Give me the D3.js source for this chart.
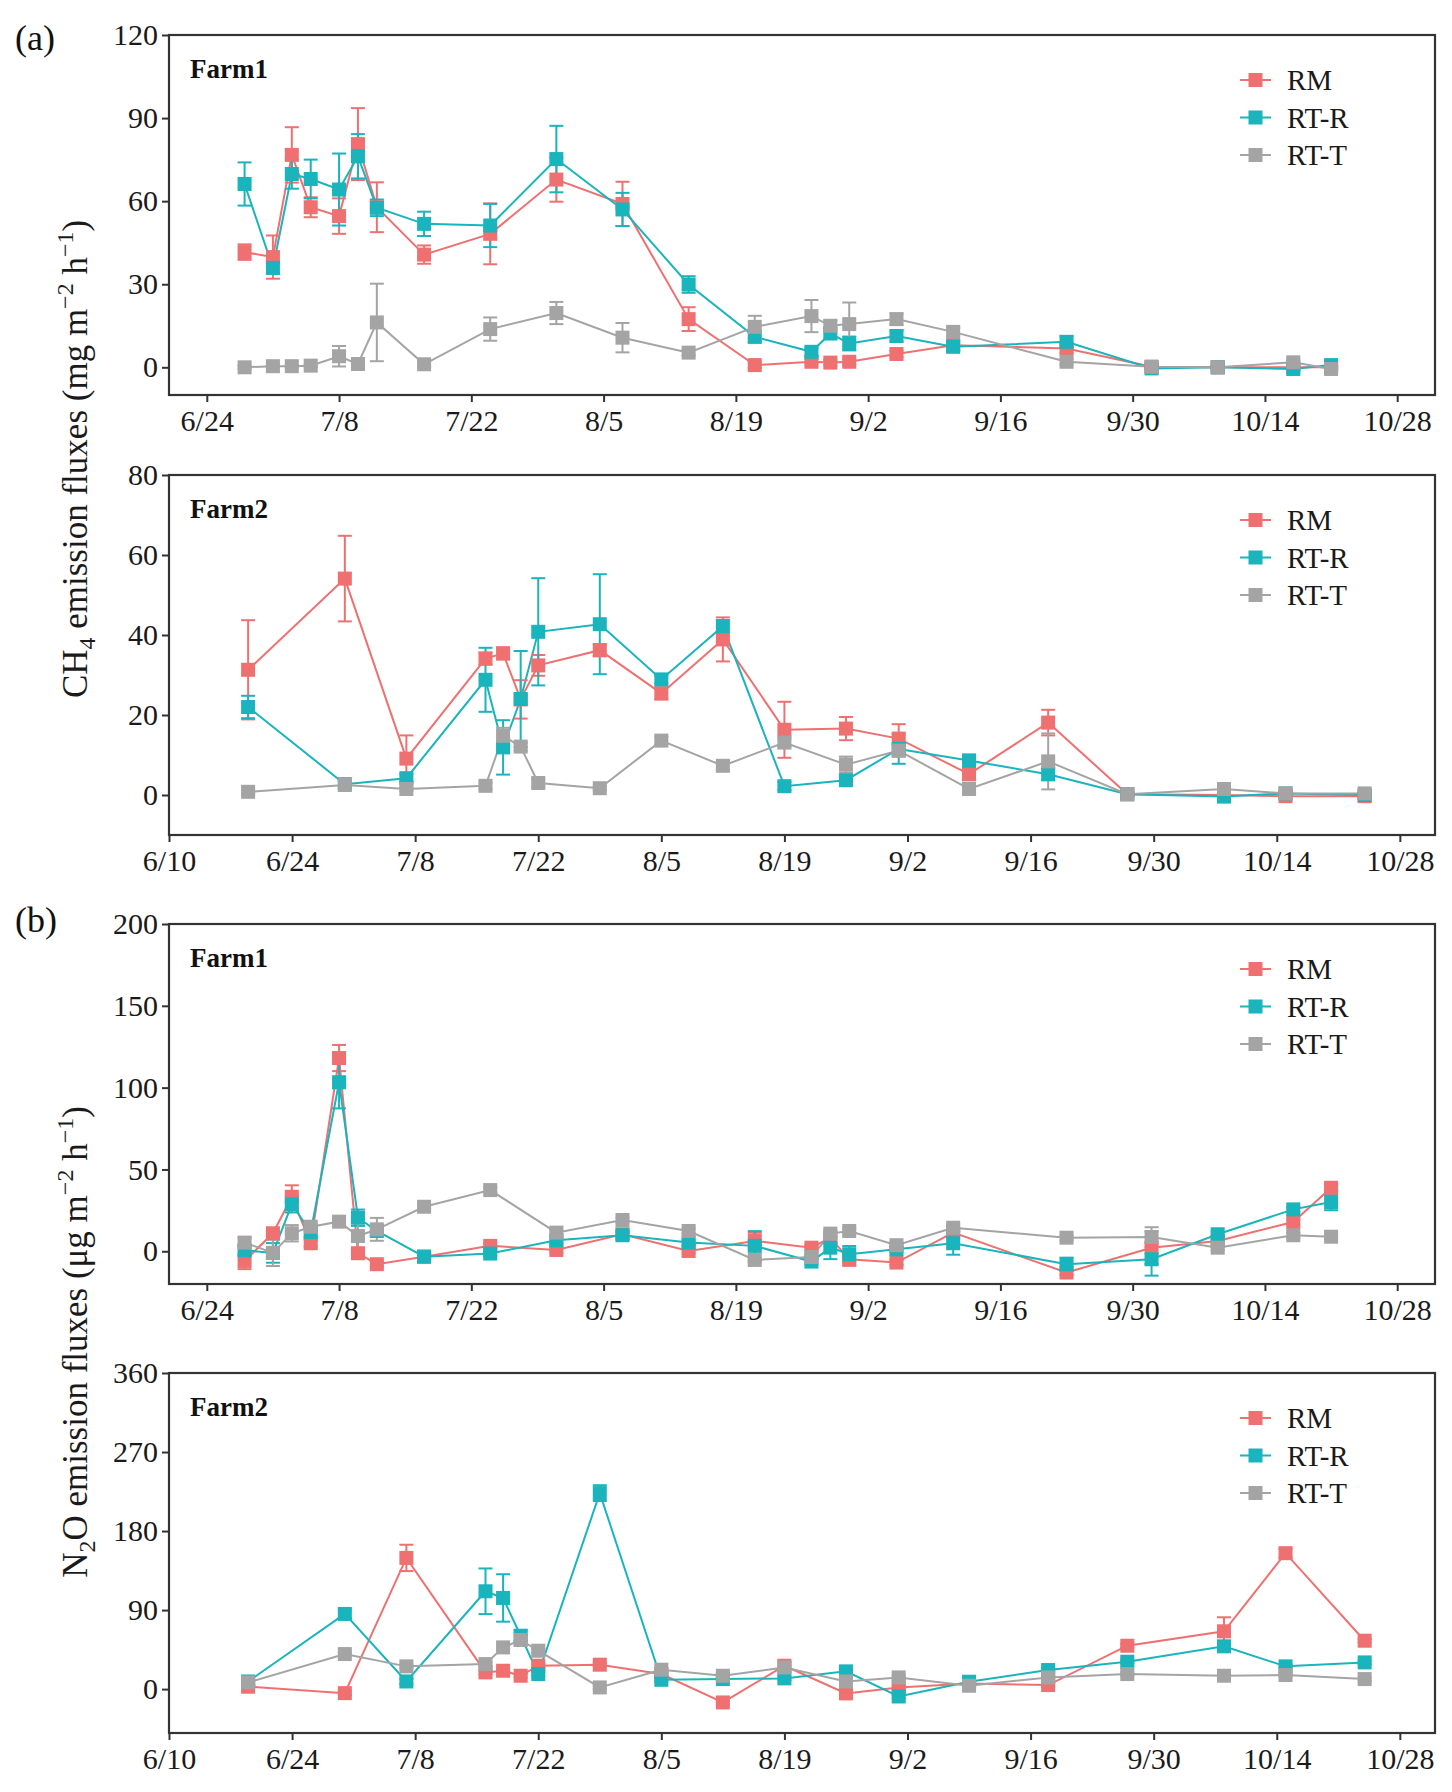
<!DOCTYPE html>
<html>
<head>
<meta charset="utf-8">
<script src="https://cdn.jsdelivr.net/npm/d3@7"></script>
<style>
    body { margin: 0; background: #fff; }
    text { font-family: "Liberation Serif", "Times New Roman", serif; }
</style>
</head>
<body>
<div id="chart"></div>
<script>
// ---- data ----
const seriesNames = ["RM", "RT-R", "RT-T"];

// sampling dates
const farm1Dates = ["6/28","7/1","7/3","7/5","7/8","7/10","7/12","7/17","7/24","7/31","8/7","8/14",
    "8/21","8/27","8/29","8/31","9/5","9/11","9/23","10/2","10/9","10/17","10/21"];
const farm2Dates = ["6/19","6/30","7/7","7/16","7/18","7/20","7/22","7/29","8/5","8/12",
    "8/19","8/26","9/1","9/9","9/18","9/27","10/8","10/15","10/24"];

// tick labels
const farm1XTicks = ["6/24","7/8","7/22","8/5","8/19","9/2","9/16","9/30","10/14","10/28"];
const farm2XTicks = ["6/10","6/24","7/8","7/22","8/5","8/19","9/2","9/16","9/30","10/14","10/28"];
const ch4Farm1YTicks = [0, 30, 60, 90, 120];
const ch4Farm2YTicks = [0, 20, 40, 60, 80];
const n2oFarm1YTicks = [0, 50, 100, 150, 200];
const n2oFarm2YTicks = [0, 90, 180, 270, 360];

// CH4, Farm1 (mg m-2 h-1)
const ch4Farm1RM     = [41.6,39.8,76.7,57.8,54.6,80.6,57.8,40.7,48.2,67.8,59.0,17.4,0.8,2.0,1.7,2.0,4.8,8.0,6.8,0.2,0,0,0];
const ch4Farm1RMErr  = [2.8,7.8,10,3.6,6.4,13,9,3.3,11,8,8,4.3,1,1,1,1,1.2,1.5,1.5,0.5,0.5,0.5,0.5];
const ch4Farm1RTR    = [66.2,35.9,69.8,68.0,64.2,76.2,57.6,51.8,51.2,75.2,57.0,29.9,11.0,5.6,12.2,8.6,11.3,7.4,9.2,-0.4,0,-0.6,0.8];
const ch4Farm1RTRErr = [7.8,2,5.3,7,13,8,3,4.4,7.8,12,6,3,2,1.5,2,2.5,2,1.5,2,0.5,0.5,0.5,0.5];
const ch4Farm1RTT    = [0,0.4,0.4,0.6,4.0,1.2,16.2,1.1,13.8,19.6,10.7,5.3,14.6,18.5,15.0,15.6,17.4,12.8,2.0,0.2,0,1.8,-0.6];
const ch4Farm1RTTErr = [0.5,0.5,0.5,0.5,3.7,1,14,1,4.2,4,5.3,1,4,5.8,2,7.8,2,1.5,1,0.5,0.5,1,0.5];

// CH4, Farm2
const ch4Farm2RM     = [31.3,54.1,9.1,34.1,35.4,23.9,32.4,36.2,25.4,38.9,16.3,16.6,14.1,5.2,18.1,0.2,0,-0.3,-0.3];
const ch4Farm2RMErr  = [12.4,10.7,5.8,1.5,1.5,4.8,2.6,1.5,1.5,5.5,7,2.9,3.6,1.5,3.2,0.5,0.5,0.5,0.5];
const ch4Farm2RTR    = [22.0,2.7,4.2,28.8,11.9,24.0,40.8,42.7,28.9,42.2,2.2,3.7,11.5,8.6,5.2,0.2,-0.4,0.4,0];
const ch4Farm2RTRErr = [2.8,1,1,8,6.8,12,13.4,12.5,1,1.5,1,1,3.7,1.5,1.5,0.5,0.5,0.5,0.5];
const ch4Farm2RTT    = [0.8,2.5,1.5,2.3,14.8,12.1,3.0,1.7,13.6,7.3,13.1,7.6,11.1,1.5,8.4,0.2,1.5,0.4,0.4];
const ch4Farm2RTTErr = [0.5,0.8,0.5,0.8,2,1,1,0.5,1,1,1,2,1.5,1,7,0.5,0.5,0.5,0.5];

// N2O, Farm1 (ug m-2 h-1)
const n2oFarm1RM     = [-5.9,11.0,33.3,4.9,118.1,-1.2,-7.9,-3.3,3.3,0.8,10.4,0.2,6.3,2.2,8.3,-4.9,-6.9,11.4,-13.0,2.2,6.3,17.9,38.8];
const n2oFarm1RMErr  = [5,1.5,7,2,8,1.5,1.5,1.5,1.5,1.5,1.5,1.5,5,1.5,3,4,1.5,2,1.5,10,1.5,1.5,2];
const n2oFarm1RTR    = [0.6,-1.0,28.7,11.8,103.3,20.5,12.4,-3.3,-1.4,6.7,9.8,5.3,3.3,-6.3,2.2,-1.8,1.2,4.9,-7.9,-4.9,10.4,25.6,30.1];
const n2oFarm1RTRErr = [3,6,5,3,16,5,3,1.5,1.5,1.5,2,1.5,9,1.5,7,5,1.5,7,4,10,1.5,1.5,5];
const n2oFarm1RTT    = [5.3,-1.0,11.0,15.0,18.1,9.3,13.4,27.2,37.4,11.4,19.1,12.4,-5.3,-3.5,10.8,12.4,3.7,14.4,8.3,8.7,2.2,9.8,8.9];
const n2oFarm1RTTErr = [3,8,5,2,1.5,8,7,1.5,1.5,1.5,1.5,1.5,1.5,1.5,2,1.5,1.5,2,1.5,6,1.5,1.5,1.5];

// N2O, Farm2
const n2oFarm2RM     = [2.7,-4.6,149.4,19.0,20.9,15.2,26.6,27.8,17.1,-15.2,26.6,-4.9,1.9,6.5,4.6,49.4,65.8,154.8,55.1];
const n2oFarm2RMErr  = [2,2,15,2,2,2,2,2,2,2,4,2,2,2,2,2,16,5,2];
const n2oFarm2RTR    = [8.7,85.6,8.7,111.4,103.8,60.8,17.1,223.2,10.6,11.4,12.2,20.2,-8.4,8.4,21.7,31.2,48.7,25.9,30.4];
const n2oFarm2RTRErr = [5,5,3,26,27,6,2,9,2,2,2,2,2,2,2,2,5,2,2];
const n2oFarm2RTT    = [7.6,39.9,25.9,28.5,47.5,55.9,43.7,1.9,22.1,15.2,24.7,8.7,13.3,3.8,13.3,17.1,15.2,16.0,11.4];
const n2oFarm2RTTErr = [2,2,2,2,2,6,2,2,2,2,2,2,2,2,2,2,2,2,2];

// ---- layout & style ----
const colors = ["#ef7070", "#19b4bc", "#a4a4a4"];
const W = 1452, H = 1792;
const plotLeft = 169, plotRight = 1435;
const panelTops = [35, 475, 924, 1373];
const panelH = 360;
const axisColor = "#333";

const parse = s => d3.timeParse("%Y/%m/%d")("2021/" + s);
const fmt = d3.timeFormat("%-m/%-d");

const panels = [
    {label: "Farm1", dates: farm1Dates, xTicks: farm1XTicks, xDomain: ["6/20", "11/1"],
     yTicks: ch4Farm1YTicks, yDomain: [-10, 120],
     values: [ch4Farm1RM, ch4Farm1RTR, ch4Farm1RTT], errs: [ch4Farm1RMErr, ch4Farm1RTRErr, ch4Farm1RTTErr]},
    {label: "Farm2", dates: farm2Dates, xTicks: farm2XTicks, xDomain: ["6/10", "11/1"],
     yTicks: ch4Farm2YTicks, yDomain: [-10, 80],
     values: [ch4Farm2RM, ch4Farm2RTR, ch4Farm2RTT], errs: [ch4Farm2RMErr, ch4Farm2RTRErr, ch4Farm2RTTErr]},
    {label: "Farm1", dates: farm1Dates, xTicks: farm1XTicks, xDomain: ["6/20", "11/1"],
     yTicks: n2oFarm1YTicks, yDomain: [-20, 200],
     values: [n2oFarm1RM, n2oFarm1RTR, n2oFarm1RTT], errs: [n2oFarm1RMErr, n2oFarm1RTRErr, n2oFarm1RTTErr]},
    {label: "Farm2", dates: farm2Dates, xTicks: farm2XTicks, xDomain: ["6/10", "11/1"],
     yTicks: n2oFarm2YTicks, yDomain: [-50, 360],
     values: [n2oFarm2RM, n2oFarm2RTR, n2oFarm2RTT], errs: [n2oFarm2RMErr, n2oFarm2RTRErr, n2oFarm2RTTErr]}
];

const svg = d3.select("#chart").append("svg")
    .attr("width", W)
    .attr("height", H)
    .style("background", "#fff");

const plotW = plotRight - plotLeft;
const box = 14;   // marker size
const cap = 14;   // error bar cap width

panels.forEach(function (p, pi) {
    let g = svg.append("g").attr("transform", `translate(${plotLeft}, ${panelTops[pi]})`);

    let x = d3.scaleTime()
        .domain(p.xDomain.map(parse))
        .range([0, plotW]);
    let y = d3.scaleLinear()
        .domain(p.yDomain)
        .range([panelH, 0]);

    // axes
    let yAxis = g.append("g")
        .call(d3.axisLeft(y).tickValues(p.yTicks).tickSize(7).tickPadding(4));
    let xAxis = g.append("g")
        .attr("transform", `translate(0, ${panelH})`)
        .call(d3.axisBottom(x).tickValues(p.xTicks.map(parse)).tickFormat(fmt).tickSize(7).tickPadding(8));
    [yAxis, xAxis].forEach(a => {
        a.select(".domain").remove();
        a.selectAll(".tick line").attr("stroke", axisColor).attr("stroke-width", 2);
        a.selectAll(".tick text")
            .attr("fill", "#1a1a1a")
            .style("font-size", "30px")
            .style("font-family", "'Liberation Serif', serif");
    });

    // frame
    g.append("rect")
        .attr("x", 0).attr("y", 0)
        .attr("width", plotW).attr("height", panelH)
        .attr("fill", "none")
        .attr("stroke", axisColor)
        .attr("stroke-width", 2.2);

    let series = p.values.map((vals, si) => vals.map((v, i) => ({
        date: parse(p.dates[i]), v: v, e: p.errs[si][i]
    })));

    let line = d3.line().x(d => x(d.date)).y(d => y(d.v));

    // lines
    series.forEach((s, si) => {
        g.append("path")
            .datum(s)
            .attr("d", line)
            .attr("fill", "none")
            .attr("stroke", colors[si])
            .attr("stroke-width", 2);
    });

    // error bars
    series.forEach((s, si) => {
        let eb = g.append("g").attr("stroke", colors[si]).attr("stroke-width", 2);
        eb.selectAll(".vbar").data(s).enter().append("line")
            .attr("class", "vbar")
            .attr("x1", d => x(d.date)).attr("x2", d => x(d.date))
            .attr("y1", d => y(d.v - d.e)).attr("y2", d => y(d.v + d.e));
        eb.selectAll(".capTop").data(s).enter().append("line")
            .attr("class", "capTop")
            .attr("x1", d => x(d.date) - cap / 2).attr("x2", d => x(d.date) + cap / 2)
            .attr("y1", d => y(d.v + d.e)).attr("y2", d => y(d.v + d.e));
        eb.selectAll(".capBot").data(s).enter().append("line")
            .attr("class", "capBot")
            .attr("x1", d => x(d.date) - cap / 2).attr("x2", d => x(d.date) + cap / 2)
            .attr("y1", d => y(d.v - d.e)).attr("y2", d => y(d.v - d.e));
    });

    // markers
    series.forEach((s, si) => {
        g.selectAll(".pt" + si).data(s).enter().append("rect")
            .attr("class", "pt" + si)
            .attr("x", d => x(d.date) - box / 2)
            .attr("y", d => y(d.v) - box / 2)
            .attr("width", box).attr("height", box)
            .attr("fill", colors[si]);
    });

    // farm label
    g.append("text")
        .attr("x", 21).attr("y", 43)
        .style("font-size", "27px")
        .style("font-weight", "bold")
        .attr("fill", "#111")
        .text(p.label);

    // legend, top right
    let leg = g.append("g").attr("transform", `translate(${plotW - 195}, 0)`);
    seriesNames.forEach((name, si) => {
        let ly = 45 + si * 37.5;
        leg.append("line")
            .attr("x1", 0).attr("x2", 31)
            .attr("y1", ly).attr("y2", ly)
            .attr("stroke", colors[si]).attr("stroke-width", 2);
        leg.append("rect")
            .attr("x", 15.5 - box / 2).attr("y", ly - box / 2)
            .attr("width", box).attr("height", box)
            .attr("fill", colors[si]);
        leg.append("text")
            .attr("x", 47).attr("y", ly + 10)
            .style("font-size", "29px")
            .attr("fill", "#1a1a1a")
            .text(name);
    });
});

// panel letters
svg.append("text").attr("x", 15).attr("y", 50).style("font-size", "36px").attr("fill", "#111").text("(a)");
svg.append("text").attr("x", 15).attr("y", 932).style("font-size", "36px").attr("fill", "#111").text("(b)");

// y axis titles
function yTitle(cy, parts) {
    let t = svg.append("text")
        .attr("transform", `translate(87, ${cy}) rotate(-90)`)
        .attr("text-anchor", "middle")
        .attr("fill", "#1a1a1a")
        .style("font-size", "35px");
    parts.forEach(pt => {
        t.append("tspan")
            .attr("dy", pt.dy || 0)
            .style("font-size", pt.small ? "24px" : "35px")
            .text(pt.s);
    });
}
yTitle(459, [
    {s: "CH"}, {s: "4", small: true, dy: 8}, {s: " emission fluxes (mg m", dy: -8},
    {s: "\u22122", small: true, dy: -14}, {s: " h", dy: 14}, {s: "\u22121", small: true, dy: -14}, {s: ")", dy: 14}
]);
yTitle(1342, [
    {s: "N"}, {s: "2", small: true, dy: 8}, {s: "O emission fluxes (\u03bcg m", dy: -8},
    {s: "\u22122", small: true, dy: -14}, {s: " h", dy: 14}, {s: "\u22121", small: true, dy: -14}, {s: ")", dy: 14}
]);
</script>
</body>
</html>
